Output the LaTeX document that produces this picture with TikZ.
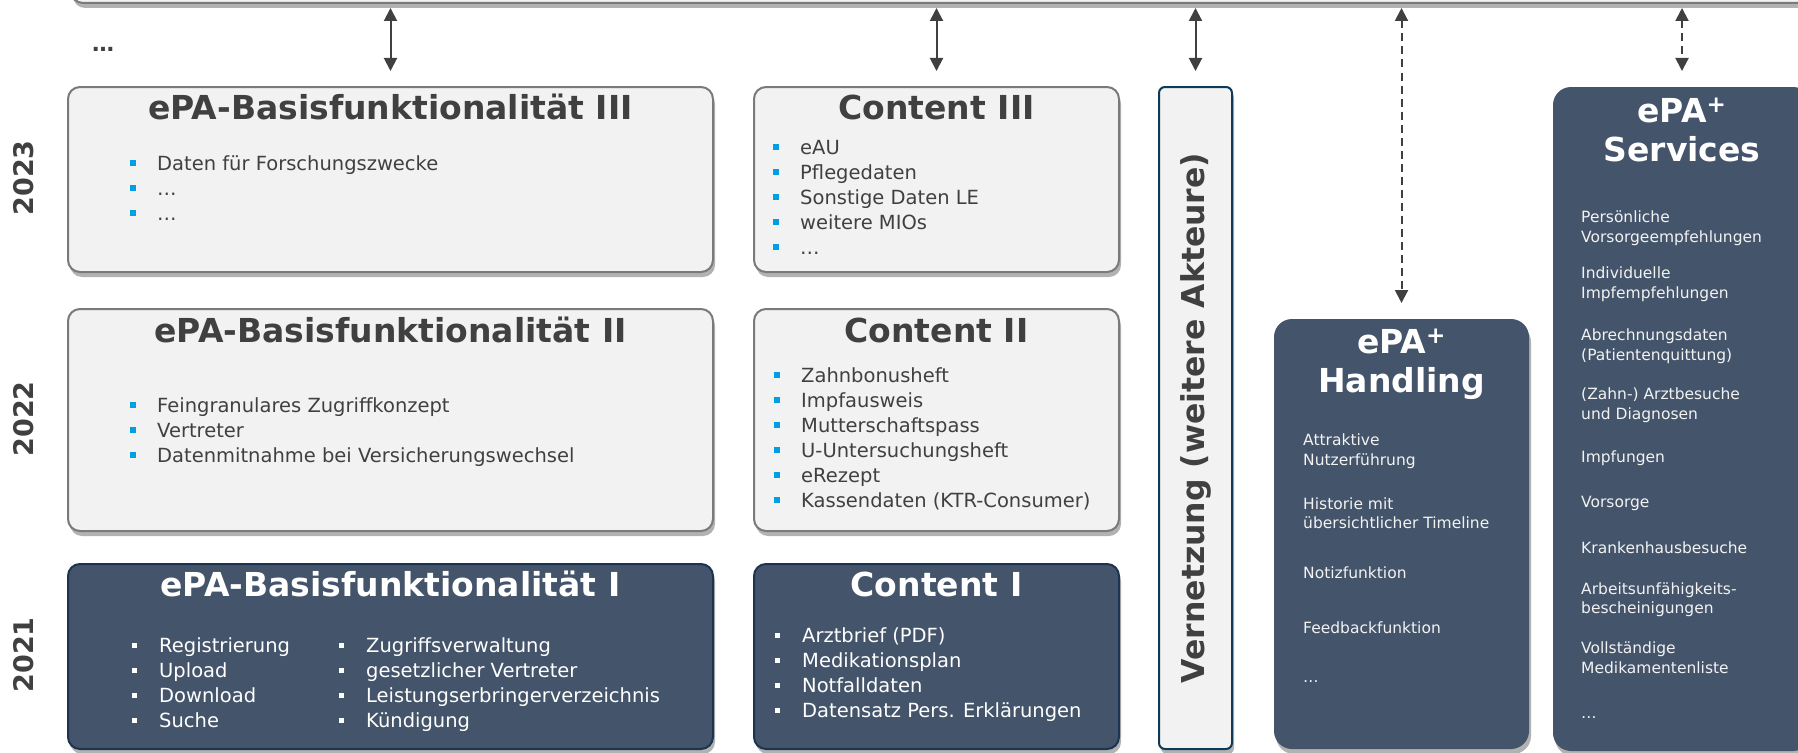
\documentclass[tikz,border=0pt]{standalone}
\usepackage{fontspec}
\setmainfont{DejaVu Sans}
\usetikzlibrary{arrows.meta,shadows,positioning}

\definecolor{darkfill}{HTML}{44546A}
\definecolor{darkline}{HTML}{1B3550}
\definecolor{vernline}{HTML}{0E3A5A}
\definecolor{lightfill}{HTML}{F2F2F2}
\definecolor{boxgrey}{HTML}{7A7A7A}
\definecolor{txtgrey}{HTML}{404040}
\definecolor{bulletblue}{HTML}{009FE3}

\newcommand{\bulblue}{\makebox[27pt][l]{\color{bulletblue}\rule[4.5pt]{6pt}{6pt}}}
\newcommand{\bulwhite}{\makebox[27pt][l]{\color{white}\rule[4.5pt]{5pt}{5pt}}}

\tikzset{
  box/.style={rounded corners=12pt, line width=2pt, inner sep=0pt, anchor=north west,
    drop shadow={shadow xshift=2pt, shadow yshift=-5pt, fill=black, opacity=.3}},
  lightbox/.style={box, draw=boxgrey, fill=lightfill},
  darkbox/.style={box, draw=darkline, fill=darkfill},
  plusbox/.style={box, rounded corners=18pt, draw=none, fill=darkfill},
  boxtitle/.style={anchor=base, inner sep=0pt, font=\fontsize{33}{38}\selectfont\bfseries, text=txtgrey},
  item/.style={anchor=base west, inner sep=0pt, font=\fontsize{19.5}{25}\selectfont, text=txtgrey,
    execute at begin node={\bulblue}},
  darkitem/.style={anchor=base west, inner sep=0pt, font=\fontsize{19.5}{25}\selectfont, text=white,
    execute at begin node={\bulwhite}},
  plusitem/.style={anchor=base west, inner sep=0pt, font=\fontsize{15.5}{20}\selectfont, text=white!95!black},
  yearlabel/.style={rotate=90, inner sep=0pt, font=\fontsize{27}{30}\selectfont\bfseries, text=txtgrey},
  biarrow/.style={draw=txtgrey, line width=2pt, shorten <=4pt, shorten >=15pt,
    {Triangle[length=13pt,width=13pt]}-{Triangle[length=13pt,width=13pt]}},
  dasharrow/.style={biarrow, dash pattern=on 8pt off 5pt}
}

\begin{document}
\begin{tikzpicture}[x=1pt,y=-1pt]
\useasboundingbox (0,0) rectangle (1798,752);

% Plattform oben
\node[lightbox, anchor=south west, minimum width=1760pt, minimum height=44pt] (platform) at (70,4) {};
\node[anchor=base, inner sep=0pt, font=\fontsize{22}{26}\selectfont\bfseries, text=txtgrey] (more) at (103,52) {…};

% Jahre
\node[yearlabel] (y2023) at (24,178) {2023};
\node[yearlabel] (y2022) at (24,419) {2022};
\node[yearlabel] (y2021) at (24,655) {2021};

% Boxen
\node[lightbox, minimum width=645pt, minimum height=185pt] (ba3) at (67,86) {};
\node[lightbox, minimum width=365pt, minimum height=185pt] (co3) at (753,86) {};
\node[lightbox, minimum width=645pt, minimum height=222pt] (ba2) at (67,308) {};
\node[lightbox, minimum width=365pt, minimum height=222pt] (co2) at (753,308) {};
\node[darkbox, minimum width=645pt, minimum height=185pt] (ba1) at (67,563) {};
\node[darkbox, minimum width=365pt, minimum height=185pt] (co1) at (753,563) {};
\node[lightbox, draw=vernline, rounded corners=6pt, minimum width=73pt, minimum height=662pt] (vern) at (1158,86) {};
\node[plusbox, minimum width=255pt, minimum height=430pt] (handl) at (1273,318) {};
\node[plusbox, minimum width=258pt, minimum height=664pt] (serv) at (1552,86) {};

% Pfeile
\draw[biarrow] (platform.south -| ba3.north) -- (ba3.north);
\draw[biarrow] (platform.south -| co3.north) -- (co3.north);
\draw[biarrow] (platform.south -| vern.north) -- (vern.north);
\draw[dasharrow] (platform.south -| handl.north) -- (handl.north);
\draw[dasharrow] (platform.south -| serv.north) -- (serv.north);

% Titel
\node[boxtitle] (ba3-t) at ([yshift=-33pt]ba3.north) {ePA-Basisfunktionalität III};
\node[boxtitle] (co3-t) at ([yshift=-33pt]co3.north) {Content III};
\node[boxtitle] (ba2-t) at ([yshift=-34pt]ba2.north) {ePA-Basisfunktionalität II};
\node[boxtitle] (co2-t) at ([yshift=-34pt]co2.north) {Content II};
\node[boxtitle, text=white] (ba1-t) at ([yshift=-33pt]ba1.north) {ePA-Basisfunktionalität I};
\node[boxtitle, text=white] (co1-t) at ([yshift=-33pt]co1.north) {Content I};
\node[yearlabel, font=\fontsize{31.5}{34}\selectfont\bfseries] (vern-t) at (vern.center) {Vernetzung (weitere Akteure)};
\node[boxtitle, text=white] (handl-t1) at ([yshift=-35pt]handl.north) {ePA\textsuperscript{+}};
\node[boxtitle, text=white] (handl-t2) at ([yshift=-74pt]handl.north) {Handling};
\node[boxtitle, text=white] (serv-t1) at ([yshift=-36pt]serv.north) {ePA\textsuperscript{+}};
\node[boxtitle, text=white] (serv-t2) at ([yshift=-75pt]serv.north) {Services};

% Listen
\foreach \t [count=\i] in {Daten für Forschungszwecke,…,…}
  \node[item] (ba3-\i) at (130,145+25*\i) {\t};
\foreach \t [count=\i] in {eAU,Pflegedaten,Sonstige Daten LE,weitere MIOs,…}
  \node[item] (co3-\i) at (773,129+25*\i) {\t};
\foreach \t [count=\i] in {Feingranulares Zugriffkonzept,Vertreter,Datenmitnahme bei Versicherungswechsel}
  \node[item] (ba2-\i) at (130,387+25*\i) {\t};
\foreach \t [count=\i] in {Zahnbonusheft,Impfausweis,Mutterschaftspass,U-Untersuchungsheft,eRezept,Kassendaten (KTR-Consumer)}
  \node[item] (co2-\i) at (774,357+25*\i) {\t};
\foreach \t [count=\i] in {Registrierung,Upload,Download,Suche}
  \node[darkitem] (ba1-a\i) at (132,627+25*\i) {\t};
\foreach \t [count=\i] in {Zugriffsverwaltung,gesetzlicher Vertreter,Leistungserbringerverzeichnis,Kündigung}
  \node[darkitem] (ba1-b\i) at (339,627+25*\i) {\t};
\foreach \t [count=\i] in {Arztbrief (PDF),Medikationsplan,Notfalldaten,Datensatz Pers. Erklärungen}
  \node[darkitem] (co1-\i) at (775,617+25*\i) {\t};

\foreach \y/\t in {445/Attraktive,465/Nutzerführung,509/Historie mit,528/übersichtlicher Timeline,
    578/Notizfunktion,633/Feedbackfunktion,682/…}
  \node[plusitem] (hd-\y) at (1303,\y) {\t};
\foreach \y/\t in {222/Persönliche,242/Vorsorgeempfehlungen,278/Individuelle,298/Impfempfehlungen,
    340/Abrechnungsdaten,360/(Patientenquittung),399/(Zahn-) Arztbesuche,419/und Diagnosen,
    462/Impfungen,507/Vorsorge,553/Krankenhausbesuche,594/Arbeitsunfähigkeits-,613/bescheinigungen,
    653/Vollständige,673/Medikamentenliste,718/…}
  \node[plusitem] (sv-\y) at (1581,\y) {\t};
\end{tikzpicture}
\end{document}
